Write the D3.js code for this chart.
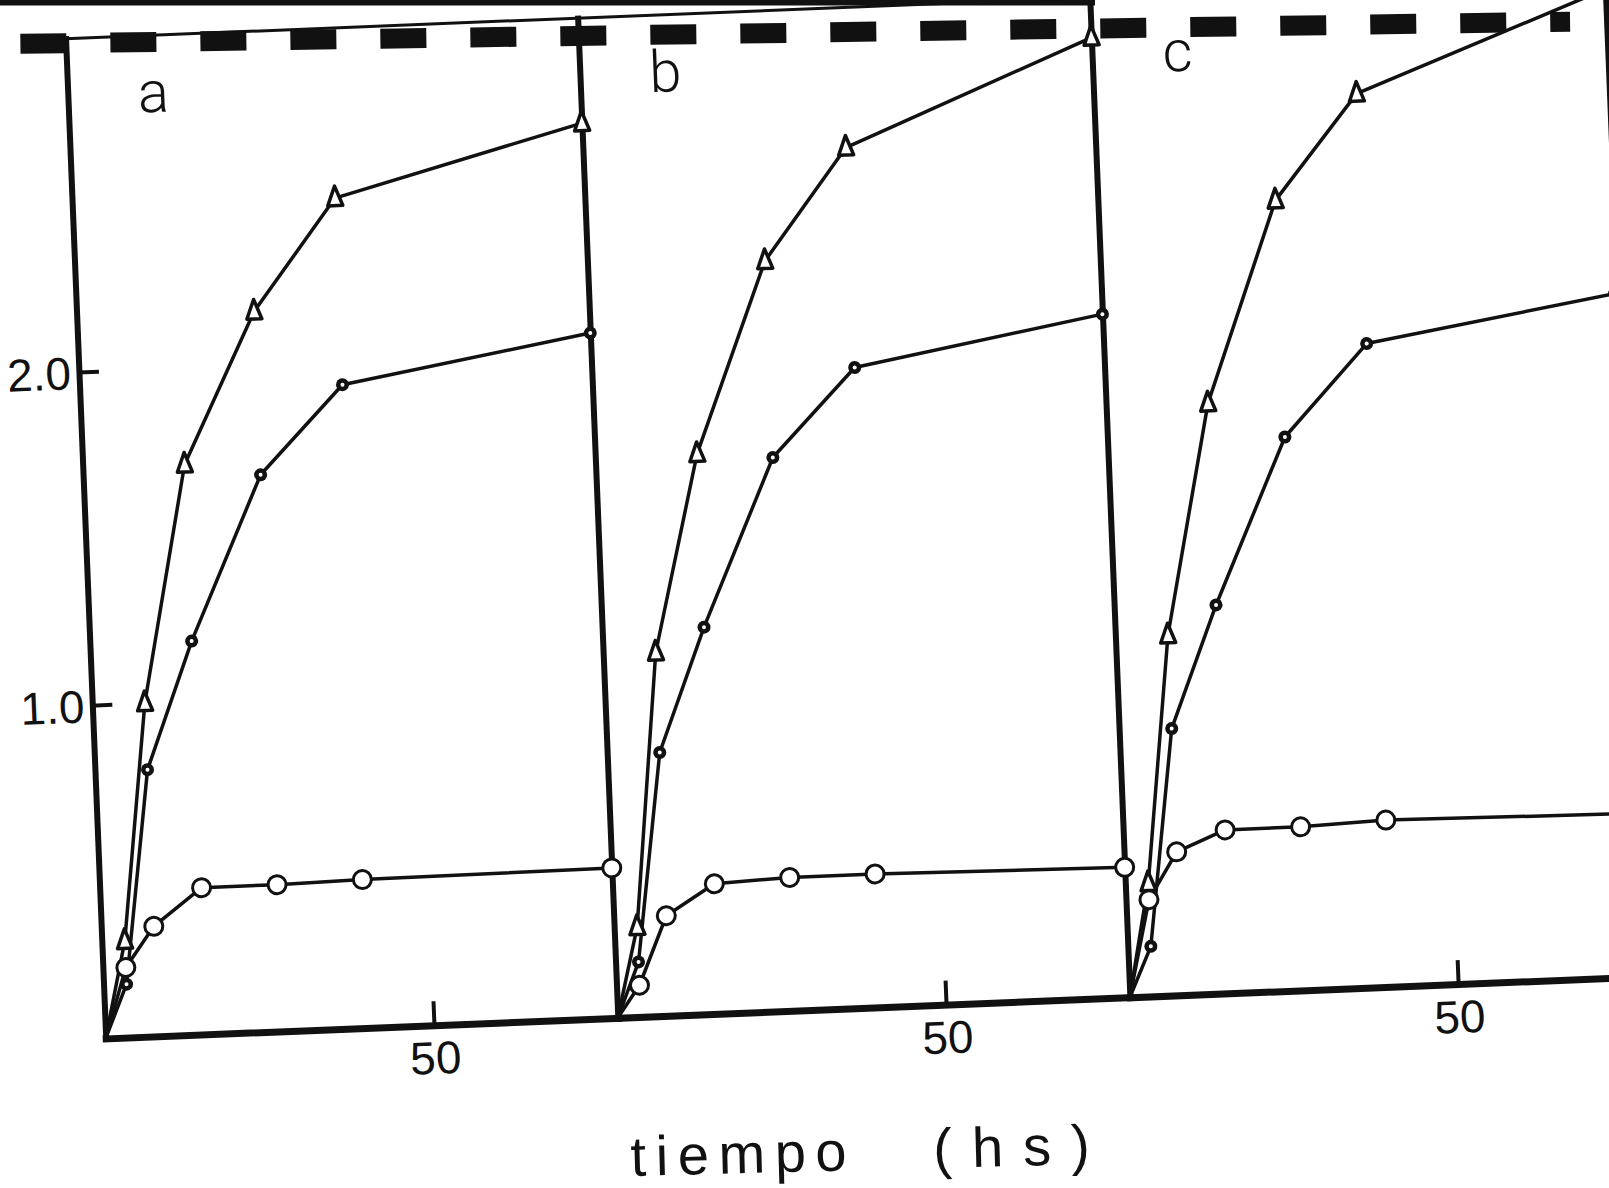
<!DOCTYPE html>
<html lang="es">
<head>
<meta charset="utf-8">
<title>tiempo (hs)</title>
<script src="https://cdn.jsdelivr.net/npm/d3@7"></script>
<style>
  html, body { margin: 0; padding: 0; background: #fff; }
  svg { display: block; }
  .axis path, .axis line { stroke: #111; stroke-linecap: square; }
  .axis text { font-family: "Liberation Sans", Arial, sans-serif; font-size: 46px; fill: #111; }
  .panel-label { font-family: Roboto, Lato, "Liberation Sans", sans-serif; font-weight: 300; font-size: 58px; fill: #111; }
  .x-title { font-family: "Liberation Sans", Arial, sans-serif; font-size: 56px; fill: #111; }
</style>
</head>
<body>
<svg id="chart" width="1609" height="1188"></svg>
<script>
// Data: three panels (a, b, c), three series each.
const panelLabels = ["a", "b", "c"];
const sampleTimes = [0, 3.5, 8, 15.5, 27, 40, 78];           // hs
const triangleValues = [
  [0, 0.29, 1.00, 1.71, 2.16, 2.49, 2.685],
  [0, 0.27, 1.09, 1.68, 2.25, 2.58, 2.88],
  [0, 0.34, 1.08, 1.77, 2.37, 2.68, 2.96]
];
const dottedCircleValues = [
  [0, 0.16, 0.80, 1.18, 1.67, 1.93, 2.055],
  [0, 0.165, 0.79, 1.16, 1.66, 1.92, 2.05],
  [0, 0.15, 0.80, 1.165, 1.66, 1.93, 2.05]
];
const openCircleValues = [
  [0, 0.21, 0.33, 0.44, 0.44, 0.445, 0.45],
  [0, 0.095, 0.30, 0.39, 0.40, 0.40, 0.39],
  [0, 0.29, 0.43, 0.49, 0.49, 0.50, 0.49]
];
const yTickValues = [1.0, 2.0];
const xTickValues = [50];
// Dashed reference line, in hours along the chained panels.
const dashedLineTimes = [-6.9, 228.9];
const dashedLineValues = [2.99, 2.87];

(function drawChart() {
  "use strict";

  const panelSpan = 78;          // hs covered by one panel
  const panelWidth = 512.5;
  const plotHeight = 1000.5;
  const scanTilt = -2.3;         // the page was scanned slightly rotated
  const origin = { x: 105.7, y: 1038.4 };

  const svg = d3.select("#chart");

  // Heavy rule along the top edge of the scanned page.
  svg.append("line")
    .attr("x1", 0).attr("x2", 1095)
    .attr("y1", 2).attr("y2", 2)
    .attr("stroke", "#111")
    .attr("stroke-width", 7);

  const root = svg.append("g")
    .attr("transform", "translate(" + origin.x + "," + origin.y + ") rotate(" + scanTilt + ")");

  const xPanel = d3.scaleLinear().domain([0, panelSpan]).range([0, panelWidth]);
  const xGlobal = d3.scaleLinear().domain([0, panelSpan]).range([0, panelWidth]);
  const yScale = d3.scaleLinear().domain([0, 3]).range([0, -plotHeight]);

  // Vertical axes: one per panel plus the edge of the next one on the right.
  d3.range(4).forEach(function drawYAxis(i) {
    const axis = d3.axisLeft(yScale)
      .tickValues(i === 0 ? yTickValues : [])
      .tickFormat(d3.format(".1f"))
      .tickSize(-18)
      .tickSizeOuter(0)
      .tickPadding(8);
    const g = root.append("g")
      .attr("class", "axis")
      .attr("transform", "translate(" + (i * panelWidth + (i === 3 ? 3 : 0)) + ",0)")
      .call(axis);
    g.select(".domain").attr("stroke-width", 6);
    g.selectAll(".tick line").attr("stroke-width", 4);
    g.selectAll(".tick text").attr("dy", "0.36em");
  });

  // Baselines with the 50 h tick in every panel.
  panelLabels.forEach(function drawXAxis(label, i) {
    const axis = d3.axisBottom(xPanel)
      .tickValues(xTickValues)
      .tickSize(-22)
      .tickSizeOuter(0)
      .tickPadding(16);
    const g = root.append("g")
      .attr("class", "axis")
      .attr("transform", "translate(" + i * panelWidth + ",0)")
      .call(axis);
    g.select(".domain").attr("stroke-width", 7);
    g.selectAll(".tick line").attr("stroke-width", 4);
  });

  // Top frame line at 3.0.
  root.append("line")
    .attr("x1", xGlobal(0))
    .attr("x2", xGlobal(panelSpan * 3.2))
    .attr("y1", yScale(3))
    .attr("y2", yScale(3))
    .attr("stroke", "#111")
    .attr("stroke-width", 3);

  // Heavy dashed reference line.
  root.append("line")
    .attr("x1", xGlobal(dashedLineTimes[0]))
    .attr("x2", xGlobal(dashedLineTimes[1]))
    .attr("y1", yScale(dashedLineValues[0]))
    .attr("y2", yScale(dashedLineValues[1]))
    .attr("stroke", "#111")
    .attr("stroke-width", 20)
    .attr("stroke-dasharray", "46 44");

  const line = d3.line()
    .x(function lineX(d) { return xPanel(d.t); })
    .y(function lineY(d) { return yScale(d.v); });

  function toPoints(values) {
    return sampleTimes.map(function pair(t, k) {
      return { t: t, v: values[k] };
    });
  }

  panelLabels.forEach(function drawPanel(label, i) {
    const panel = root.append("g")
      .attr("transform", "translate(" + i * panelWidth + ",0)");

    panel.append("text")
      .attr("class", "panel-label")
      .attr("x", xPanel(13))
      .attr("y", yScale(2.83))
      .attr("dy", "0.35em")
      .attr("text-anchor", "middle")
      .text(label);

    const series = [
      { kind: "triangle", points: toPoints(triangleValues[i]) },
      { kind: "dotted", points: toPoints(dottedCircleValues[i]) },
      { kind: "open", points: toPoints(openCircleValues[i]) }
    ];

    series.forEach(function drawLine(s) {
      panel.append("path")
        .attr("d", line(s.points))
        .attr("fill", "none")
        .attr("stroke", "#111")
        .attr("stroke-width", 3.5)
        .attr("stroke-linejoin", "round");
    });

    series.forEach(function drawMarkers(s) {
      const marks = panel.selectAll(null)
        .data(s.points.slice(1))
        .enter()
        .append("g")
        .attr("transform", function place(d) {
          return "translate(" + xPanel(d.t) + "," + yScale(d.v) + ")";
        });

      if (s.kind === "triangle") {
        marks.append("path")
          .attr("d", "M0,-12L7.5,7.5L-7.5,7.5Z")
          .attr("fill", "#fff")
          .attr("stroke", "#111")
          .attr("stroke-width", 3.5)
          .attr("stroke-linejoin", "round");
      } else if (s.kind === "dotted") {
        marks.append("circle")
          .attr("r", 6.5)
          .attr("fill", "#111");
        marks.append("circle")
          .attr("r", 2)
          .attr("fill", "#fff");
      } else {
        marks.append("circle")
          .attr("r", 9)
          .attr("fill", "#fff")
          .attr("stroke", "#111")
          .attr("stroke-width", 3);
      }
    });
  });

  // Axis title under the panels.
  const title = svg.append("text")
    .attr("class", "x-title")
    .attr("x", 631)
    .attr("y", 1176)
    .attr("transform", "rotate(-1.5 631 1176)");
  title.append("tspan")
    .attr("letter-spacing", 9.6)
    .attr("word-spacing", 52)
    .text("tiempo ");
  title.append("tspan")
    .attr("letter-spacing", 20)
    .text("(hs)");
})();
</script>
</body>
</html>
